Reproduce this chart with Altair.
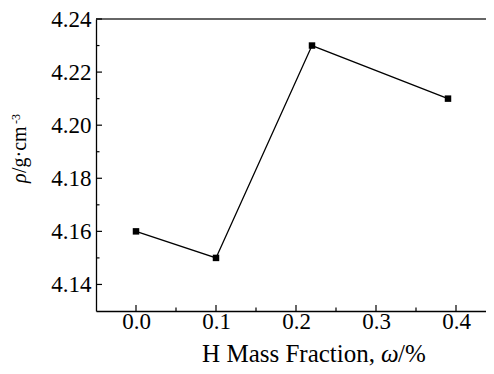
import altair as alt
import pandas as pd

# data
h_fraction = [0.0, 0.1, 0.22, 0.39]
density = [4.16, 4.15, 4.23, 4.21]

x_major = [0.0, 0.1, 0.2, 0.3, 0.4]
x_minor = [0.05, 0.15, 0.25, 0.35]
y_major = [4.14, 4.16, 4.18, 4.20, 4.22, 4.24]
y_minor = [4.15, 4.17, 4.19, 4.21, 4.23]

FONT = "Liberation Serif"
W, H = 390, 292
PX0, PY0 = 96, 19  # page position of plot origin

df = pd.DataFrame({"x": h_fraction, "y": density})
xs = alt.Scale(domain=[-0.05, -0.05 + W / 800.0], nice=False, zero=False)
ys = alt.Scale(domain=[4.13, 4.24], nice=False, zero=False)

x_axis = alt.Axis(values=x_major, format=".1f", tickSize=0, grid=False,
                  domainColor="black", domainWidth=1.3,
                  labelFont=FONT, labelFontSize=23, labelColor="black",
                  labelPadding=-1, labelFlush=False, title=None)
y_axis = alt.Axis(values=y_major, format=".2f", tickSize=0, grid=False,
                  domainColor="black", domainWidth=1.3,
                  labelFont=FONT, labelFontSize=23, labelColor="black",
                  labelPadding=5, labelFlush=False, title=None)

base = alt.Chart(df)

line = base.mark_line(color="black", strokeWidth=1.3).encode(
    x=alt.X("x:Q", scale=xs, axis=x_axis),
    y=alt.Y("y:Q", scale=ys, axis=y_axis),
)

pts = base.mark_point(shape="square", filled=True, color="black", size=42, opacity=1).encode(
    x=alt.X("x:Q", scale=xs, axis=x_axis), y=alt.Y("y:Q", scale=ys, axis=y_axis)
)

one = pd.DataFrame({"a": [0]})

top_line = alt.Chart(one).mark_rule(color="#333333", strokeWidth=1.5).encode(
    x=alt.value(0), x2=alt.value(W), y=alt.value(0)
)

xmaj = alt.Chart(pd.DataFrame({"x": x_major})).mark_rule(color="black", strokeWidth=1.2).encode(
    x=alt.X("x:Q", scale=xs, axis=x_axis), y=alt.value(H), y2=alt.value(H - 6)
)
xmin = alt.Chart(pd.DataFrame({"x": x_minor})).mark_rule(color="black", strokeWidth=1.2).encode(
    x=alt.X("x:Q", scale=xs, axis=x_axis), y=alt.value(H), y2=alt.value(H - 3.5)
)
ymaj = alt.Chart(pd.DataFrame({"y": y_major})).mark_rule(color="black", strokeWidth=1.2).encode(
    y=alt.Y("y:Q", scale=ys, axis=y_axis), x=alt.value(0), x2=alt.value(6)
)
ymin = alt.Chart(pd.DataFrame({"y": y_minor})).mark_rule(color="black", strokeWidth=1.2).encode(
    y=alt.Y("y:Q", scale=ys, axis=y_axis), x=alt.value(0), x2=alt.value(3.5)
)

# x title pieces: "H Mass Fraction, " + italic omega + "/%"
XT_BASE = 362 - PY0
W0 = 381 - PX0
xt1 = alt.Chart(one).mark_text(text="H Mass Fraction,", font=FONT, fontSize=25, color="black",
                               align="right", baseline="alphabetic").encode(
    x=alt.value(W0 - 6), y=alt.value(XT_BASE))
xt2 = alt.Chart(one).mark_text(text="ω", font=FONT, fontSize=25, fontStyle="italic", color="black",
                               align="left", baseline="alphabetic").encode(
    x=alt.value(W0), y=alt.value(XT_BASE))
xt3 = alt.Chart(one).mark_text(text="/%", font=FONT, fontSize=25, color="black",
                               align="left", baseline="alphabetic").encode(
    x=alt.value(W0 + 17), y=alt.value(XT_BASE))

# y title pieces (rotated): italic rho + "/g·cm" + superscript "-3"
YT_BASE = 26 - PX0
yt1 = alt.Chart(one).mark_text(text="ρ", font=FONT, fontSize=20, fontStyle="italic", color="black",
                               align="left", baseline="alphabetic", angle=270).encode(
    x=alt.value(YT_BASE), y=alt.value(183 - PY0))
yt2 = alt.Chart(one).mark_text(text="/g·cm", font=FONT, fontSize=20, color="black",
                               align="left", baseline="alphabetic", angle=270).encode(
    x=alt.value(YT_BASE), y=alt.value(173 - PY0))
yt3 = alt.Chart(one).mark_text(text="-3", font=FONT, fontSize=12, color="black",
                               align="left", baseline="alphabetic", angle=270).encode(
    x=alt.value(20 - PX0), y=alt.value(124 - PY0))

chart = alt.layer(line, pts, top_line, xmaj, xmin, ymaj, ymin,
                  xt1, xt2, xt3, yt1, yt2, yt3).properties(
    width=W, height=H,
    autosize=alt.AutoSizeParams(type="none"),
    padding={"left": PX0 - 8, "top": PY0 - 8, "right": 0, "bottom": 55},
    background="white",
).configure_view(stroke=None)

chart.save("out.html", embed_options={"renderer": "svg", "actions": False})
